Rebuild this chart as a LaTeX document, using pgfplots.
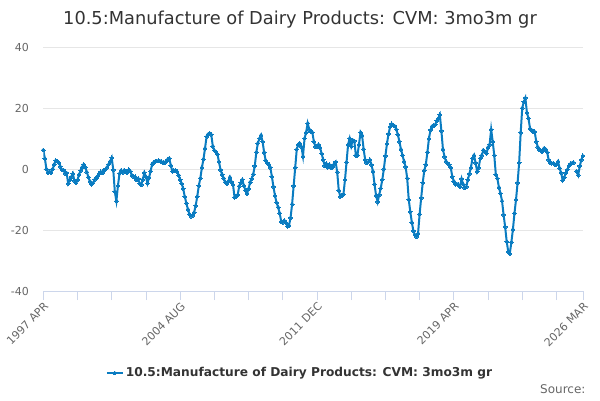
\documentclass[border=0pt]{standalone}
\usepackage{fontspec}
\setmainfont{DejaVu Sans}
\usepackage{pgfplots}
\usepackage{pgfplotstable}
\pgfplotsset{compat=1.18}
\definecolor{linec}{HTML}{0A7CC1}
\definecolor{gridc}{HTML}{E6E6E6}
\definecolor{axisc}{HTML}{CCD6EB}
\definecolor{labc}{HTML}{666666}
\definecolor{titc}{HTML}{333333}
\pgfplotstableread{
x y
0 6.2
1 3.5
2 0.0
3 -1.2
4 -0.8
5 -1.2
6 0.0
7 1.5
8 2.8
9 2.6
10 2.0
11 0.8
12 -0.3
13 -0.3
14 -1.4
15 -1.3
16 -4.7
17 -3.6
18 -2.6
19 -1.5
20 -3.8
21 -4.6
22 -3.6
23 -1.8
24 -0.5
25 0.6
26 1.5
27 0.6
28 -1.0
29 -2.7
30 -4.0
31 -5.0
32 -4.6
33 -3.5
34 -3.0
35 -2.3
36 -1.5
37 -0.9
38 -1.3
39 -0.3
40 -0.1
41 0.6
42 1.5
43 2.5
44 3.7
45 -0.3
46 -7.5
47 -10.5
48 -5.5
49 -1.5
50 -0.5
51 -1.2
52 -0.4
53 -0.9
54 -1.2
55 -0.2
56 -0.8
57 -2.0
58 -2.5
59 -2.5
60 -3.6
61 -3.1
62 -4.8
63 -5.2
64 -3.4
65 -1.2
66 -2.5
67 -4.7
68 -2.8
69 -0.7
70 1.6
71 2.2
72 2.5
73 2.6
74 2.7
75 2.6
76 2.4
77 2.1
78 2.0
79 2.6
80 3.2
81 3.5
82 1.2
83 -0.8
84 -0.5
85 -0.4
86 -0.8
87 -2.0
88 -3.5
89 -4.8
90 -6.5
91 -9.1
92 -11.2
93 -13.2
94 -14.8
95 -15.5
96 -15.3
97 -14.2
98 -12.0
99 -9.0
100 -5.5
101 -3.0
102 0.5
103 3.2
104 6.8
105 10.6
106 11.4
107 11.7
108 11.3
109 7.5
110 6.1
111 5.6
112 4.8
113 2.3
114 -0.3
115 -1.8
116 -3.0
117 -4.3
118 -4.8
119 -4.0
120 -2.7
121 -4.2
122 -5.2
123 -9.3
124 -8.9
125 -8.5
126 -5.6
127 -4.5
128 -3.5
129 -5.5
130 -7.0
131 -8.0
132 -6.5
133 -4.3
134 -3.2
135 -1.7
136 1.0
137 5.5
138 8.5
139 10.0
140 11.1
141 9.0
142 5.5
143 2.8
144 2.0
145 1.5
146 0.5
147 -2.5
148 -5.8
149 -8.8
150 -11.0
151 -12.5
152 -14.5
153 -17.2
154 -17.5
155 -16.9
156 -17.6
157 -18.8
158 -18.5
159 -16.0
160 -11.5
161 -5.5
162 0.5
163 6.5
164 8.0
165 8.4
166 7.3
167 4.2
168 10.0
169 12.0
170 15.0
171 13.0
172 12.3
173 12.0
174 9.0
175 7.3
176 7.5
177 8.0
178 7.0
179 5.0
180 3.0
181 1.0
182 1.8
183 0.6
184 1.4
185 0.4
186 0.6
187 1.6
188 2.3
189 -1.0
190 -7.0
191 -9.0
192 -8.8
193 -8.3
194 -3.6
195 2.2
196 8.0
197 10.0
198 7.5
199 9.5
200 9.2
201 4.5
202 4.5
203 8.0
204 12.0
205 11.0
206 6.5
207 3.0
208 2.0
209 2.4
210 3.0
211 1.4
212 -0.7
213 -5.0
214 -8.7
215 -10.8
216 -8.5
217 -6.3
218 -3.5
219 0.0
220 4.3
221 8.3
222 11.5
223 13.8
224 14.8
225 14.4
226 14.1
227 13.0
228 11.3
229 9.0
230 6.5
231 4.5
232 2.5
233 0.7
234 -3.0
235 -10.0
236 -14.0
237 -17.5
238 -20.3
239 -21.6
240 -22.2
241 -21.1
242 -14.8
243 -9.5
244 -4.5
245 -0.5
246 1.5
247 5.5
248 10.0
249 12.8
250 14.0
251 14.2
252 14.5
253 15.8
254 16.6
255 17.8
256 12.5
257 6.5
258 4.0
259 2.5
260 1.9
261 1.4
262 0.5
263 -2.5
264 -4.0
265 -5.0
266 -4.9
267 -5.2
268 -5.8
269 -3.2
270 -5.0
271 -6.2
272 -5.9
273 -3.5
274 -1.6
275 0.5
276 3.5
277 4.5
278 2.0
279 -0.8
280 0.5
281 3.5
282 4.5
283 6.2
284 5.7
285 5.1
286 7.1
287 8.0
288 13.0
289 9.0
290 4.5
291 -1.8
292 -3.1
293 -6.0
294 -8.0
295 -10.5
296 -15.0
297 -19.0
298 -23.8
299 -27.1
300 -27.7
301 -24.0
302 -19.8
303 -14.5
304 -10.0
305 -4.5
306 2.0
307 12.0
308 20.0
309 22.0
310 23.3
311 18.5
312 16.6
313 13.3
314 12.8
315 12.2
316 12.2
317 9.0
318 7.2
319 6.3
320 6.0
321 5.7
322 6.8
323 6.5
324 5.5
325 3.0
326 2.1
327 1.9
328 1.9
329 1.5
330 1.6
331 2.5
332 0.3
333 -1.3
334 -3.7
335 -2.8
336 -1.3
337 -0.2
338 1.0
339 1.7
340 2.0
341 2.1
342 nan
343 -0.7
344 -2.0
345 1.0
346 3.0
347 4.3
}\dairy
\begin{document}
\begin{tikzpicture}[x=1pt,y=1pt]
\path[use as bounding box] (0,0) rectangle (600,400);
\node[font=\fontsize{17.8}{20}\selectfont, text=titc] at (300,380) {10.5:Manufacture of Dairy Products: CVM: 3mo3m gr};
\begin{axis}[
  at={(43.3pt,109pt)}, anchor=south west,
  width=539.6pt, height=244pt, scale only axis,
  xmin=0, xmax=347, ymin=-40, ymax=40,
  axis x line*=bottom, axis y line*=left,
  x axis line style={draw=axisc, line width=1pt, -},
  y axis line style={draw=none},
  xtick={0,88,176,264,347},
  xticklabels={1997 APR,2004 AUG,2011 DEC,2019 APR,2026 MAR},
  minor xtick={22,44,66,110,132,154,198,220,242,286,308,330},
  xtick align=outside,
  major tick length=9pt, minor tick length=9pt,
  xtick style={draw=axisc, line width=0.8pt},
  minor x tick style={draw=axisc, line width=0.8pt},
  ytick={-40,-20,0,20,40},
  ytick style={draw=none},
  ymajorgrids,
  major grid style={draw=gridc, line width=0.8pt},
  /pgf/number format/assume math mode=true,
  tick label style={font=\fontsize{11}{13}\selectfont, text=labc},
  xticklabel style={rotate=45, anchor=north east, inner sep=1pt},
  yticklabel style={anchor=east, xshift=-11pt},
  unbounded coords=jump,
  legend style={at={(axis description cs:0.4757,-0.336)}, anchor=center, draw=none, fill=none,
     font=\fontsize{12.2}{14}\selectfont\bfseries, text=titc, inner sep=0pt},
  legend image code/.code={\draw[mark repeat=2,mark phase=2] plot coordinates {(0pt,0pt) (8pt,0pt) (16pt,0pt)};},
]
\addplot[color=linec, line width=2pt, mark=*, mark size=1.9pt, mark options={solid, fill=linec, draw=linec, line width=0pt}] table[x=x,y=y] {\dairy};
\addlegendentry{10.5:Manufacture of Dairy Products: CVM: 3mo3m gr}
\end{axis}
\node[font=\fontsize{12}{14}\selectfont, text=labc, anchor=east] at (589,11) {Source:};
\end{tikzpicture}
\end{document}
